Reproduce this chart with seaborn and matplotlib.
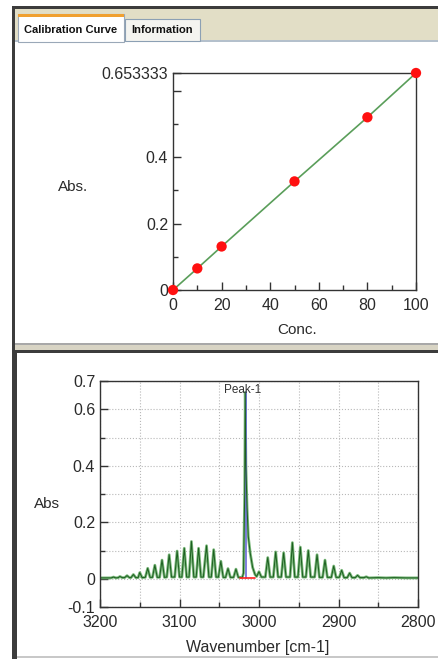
"""
Calibration curve + spectrum panel (screenshot recreation)
"""
import matplotlib
matplotlib.use("Agg")
import matplotlib.pyplot as plt
from matplotlib.patches import Rectangle
from matplotlib.ticker import MultipleLocator, FixedLocator
import seaborn as sns
import pandas as pd

W, H = 438, 659

# calibration points
conc = [0, 10, 20, 50, 80, 100]
cal_abs = [0.0, 0.065, 0.131, 0.327, 0.520, 0.653333]
cal_yticks = [0, 0.2, 0.4, 0.6, 0.653333]
cal_ylabels = ["0", "0.2", "0.4", "", "0.653333"]
cal_xticks = [0, 20, 40, 60, 80, 100]

# spectrum vertices (wavenumber, abs)
spec_wn = [
    3200, 3192, 3186, 3183, 3180, 3177, 3175, 3172, 3169, 3166, 3163, 3161,
    3158, 3155, 3152, 3150, 3147, 3143, 3140, 3137, 3134, 3131, 3128, 3125,
    3122, 3119, 3116, 3113, 3110, 3106, 3103, 3100, 3097, 3094, 3091, 3088,
    3085, 3082, 3079, 3076, 3073, 3070, 3066, 3063, 3060, 3057, 3054, 3051,
    3048, 3045, 3042, 3039, 3036, 3032, 3029, 3026, 3021, 3019.5, 3018,
    3017.3, 3016.5, 3015, 3013.5, 3011, 3008, 3005, 3003, 3000, 2997, 2992,
    2989, 2986, 2982, 2979, 2976, 2972, 2969, 2966, 2961, 2958, 2955, 2951,
    2948, 2945, 2941, 2938, 2935, 2930, 2927, 2924, 2920, 2917, 2914, 2909,
    2906, 2903, 2899, 2896, 2893, 2889, 2886, 2883, 2879, 2876, 2873, 2868,
    2865, 2862, 2850, 2840, 2830, 2815, 2800,
]
spec_abs = [
    0.003, 0.003, 0.003, 0.006, 0.003, 0.004, 0.008, 0.004, 0.004, 0.011, 0.004, 0.004,
    0.015, 0.004, 0.004, 0.022, 0.004, 0.005, 0.037, 0.005, 0.005, 0.048, 0.005, 0.005,
    0.066, 0.005, 0.006, 0.085, 0.006, 0.006, 0.098, 0.006, 0.006, 0.108, 0.006, 0.006,
    0.132, 0.006, 0.006, 0.108, 0.006, 0.006, 0.117, 0.006, 0.006, 0.103, 0.006, 0.006,
    0.062, 0.005, 0.005, 0.036, 0.005, 0.005, 0.034, 0.005, 0.005, 0.02, 0.30,
    0.66, 0.40, 0.25, 0.15, 0.09, 0.04, 0.015, 0.008, 0.025, 0.006, 0.006,
    0.075, 0.006, 0.006, 0.095, 0.006, 0.006, 0.092, 0.006, 0.006, 0.128, 0.006, 0.006,
    0.112, 0.006, 0.006, 0.100, 0.006, 0.006, 0.085, 0.005, 0.005, 0.066, 0.005, 0.005,
    0.045, 0.005, 0.005, 0.030, 0.004, 0.004, 0.020, 0.004, 0.004, 0.012, 0.004, 0.004,
    0.007, 0.003, 0.004, 0.003, 0.004, 0.003, 0.003,
]
spec_xticks = [3200, 3100, 3000, 2900, 2800]
spec_yticks = [-0.1, 0, 0.2, 0.4, 0.6, 0.7]
spec_ylabels = ["-0.1", "0", "0.2", "0.4", "0.6", "0.7"]

peak_name = "Peak-1"
peak_wn = 3016.8
peak_abs = [0.004, 0.66]
peak_label_wn = 3021
peak_label_abs = 0.668
peak_base_wn = [3024, 3005]
peak_base_abs = [0.004, 0.004]

sns.set_style("ticks")
plt.rcParams["font.family"] = ["Liberation Sans", "DejaVu Sans"]

fig = plt.figure(figsize=(W / 100, H / 100), dpi=100)
fig.patch.set_facecolor("white")


def rect(x0, y0, x1, y1, **kw):
    # pixel box (top-left origin) -> figure fraction
    r = Rectangle((x0 / W, 1 - y1 / H), (x1 - x0) / W, (y1 - y0) / H,
                  transform=fig.transFigure, zorder=-10, **kw)
    fig.add_artist(r)


def axes_px(x0, y0, x1, y1):
    return fig.add_axes([x0 / W, 1 - y1 / H, (x1 - x0) / W, (y1 - y0) / H])


# window frame / tabs
rect(12, 6, W, 9, color="#3c3c3c", lw=0)
rect(12, 6, 15, H, color="#3c3c3c", lw=0)
rect(15, 9, W, 41, color="#e2dec6", lw=0)
rect(15, 40, W, 42, color="#b4c0cc", lw=0)
rect(15, 42, W, 343, color="white", lw=0)
rect(15, 343, W, 345, color="#a8a8a8", lw=0)
rect(15, 345, W, 350, color="#d8d4c4", lw=0)
rect(12, 350, W, 353, color="#3c3c3c", lw=0)
rect(15, 353, 17, H, color="#3c3c3c", lw=0)
rect(17, 353, W, H, color="white", lw=0)
rect(17, 656, W, 658, color="#c8c8c8", lw=0)
rect(18, 14, 124, 42, facecolor="white", edgecolor="#9aa8b8", lw=0.8)
rect(18, 14, 124, 17, color="#f0a030", lw=0)
rect(125, 19, 200, 41, facecolor="#f4f4f0", edgecolor="#8ca0b4", lw=0.8)
fig.text(71 / W, 1 - 30 / H, "Calibration Curve", fontsize=8, fontweight="bold",
         ha="center", va="center", color="#111")
fig.text(162 / W, 1 - 30 / H, "Information", fontsize=8, fontweight="bold",
         ha="center", va="center", color="#111")

spine_c = "#333333"
lab_c = "#2a2a2a"

# ---- calibration curve ----
ax1 = axes_px(173, 73, 416, 290)
cal = pd.DataFrame({"conc": conc, "abs": cal_abs})
sns.lineplot(data=cal, x="conc", y="abs", ax=ax1, color="#5a9e5a", lw=1.2)
sns.scatterplot(data=cal, x="conc", y="abs", ax=ax1, color="#ff1010", s=55,
                edgecolor="none", zorder=3, clip_on=False)
ax1.set_xlim(0, 100)
ax1.set_ylim(0, 0.653333)
ax1.xaxis.set_major_locator(FixedLocator(cal_xticks))
ax1.xaxis.set_minor_locator(MultipleLocator(10))
ax1.yaxis.set_major_locator(FixedLocator(cal_yticks))
ax1.set_yticklabels(cal_ylabels)
ax1.yaxis.set_minor_locator(FixedLocator([0.1, 0.3, 0.5]))
ax1.set_xlabel("Conc.", fontsize=11, color=lab_c, va="center")
ax1.xaxis.set_label_coords(0.51, -0.184)
ax1.set_ylabel("Abs.", fontsize=11, color=lab_c, rotation=0, ha="center", va="center")
ax1.yaxis.set_label_coords(-0.41, 0.475)

# ---- spectrum ----
ax2 = axes_px(100, 381, 418, 607)
spec = pd.DataFrame({"wn": spec_wn, "abs": spec_abs})
sns.lineplot(data=spec, x="wn", y="abs", ax=ax2, sort=False, estimator=None,
             color="#7ab87a", lw=2.0)
ax2.plot([peak_wn, peak_wn], peak_abs, color="#6a6ad8", lw=1.2)
sns.lineplot(data=spec, x="wn", y="abs", ax=ax2, sort=False, estimator=None,
             color="#1c5e20", lw=0.7)
ax2.plot(peak_base_wn, peak_base_abs, color="#ff2020", lw=1.2)
ax2.text(peak_label_wn, peak_label_abs, peak_name, fontsize=8.5, color="#333",
         ha="center", va="center")
ax2.set_xlim(3200, 2800)
ax2.set_ylim(-0.1, 0.7)
ax2.xaxis.set_major_locator(FixedLocator(spec_xticks))
ax2.xaxis.set_minor_locator(MultipleLocator(50))
ax2.yaxis.set_major_locator(FixedLocator(spec_yticks))
ax2.set_yticklabels(spec_ylabels)
ax2.yaxis.set_minor_locator(FixedLocator([0.1, 0.3, 0.5]))
ax2.grid(True, which="both", color="#b8b8b8", linestyle=":", lw=0.8)
ax2.set_axisbelow(True)
ax2.set_xlabel("Wavenumber [cm-1]", fontsize=11.5, color=lab_c, va="center")
ax2.xaxis.set_label_coords(0.497, -0.177)
ax2.set_ylabel("Abs", fontsize=11, color=lab_c, rotation=0, ha="center", va="center")
ax2.yaxis.set_label_coords(-0.167, 0.456)

for ax in (ax1, ax2):
    ax.set_facecolor("white")
    for s in ax.spines.values():
        s.set_visible(True)
        s.set_color(spine_c)
        s.set_linewidth(1.0)
    ax.tick_params(which="both", direction="in", color=spine_c, width=1.0,
                   labelsize=11.5, labelcolor=lab_c)
    ax.tick_params(which="major", length=6)
    ax.tick_params(which="minor", length=3.5)
    ax.tick_params(axis="x", which="both", pad=6)
    ax.tick_params(axis="y", which="both", pad=3.5)

fig.savefig("out.png", dpi=100)
